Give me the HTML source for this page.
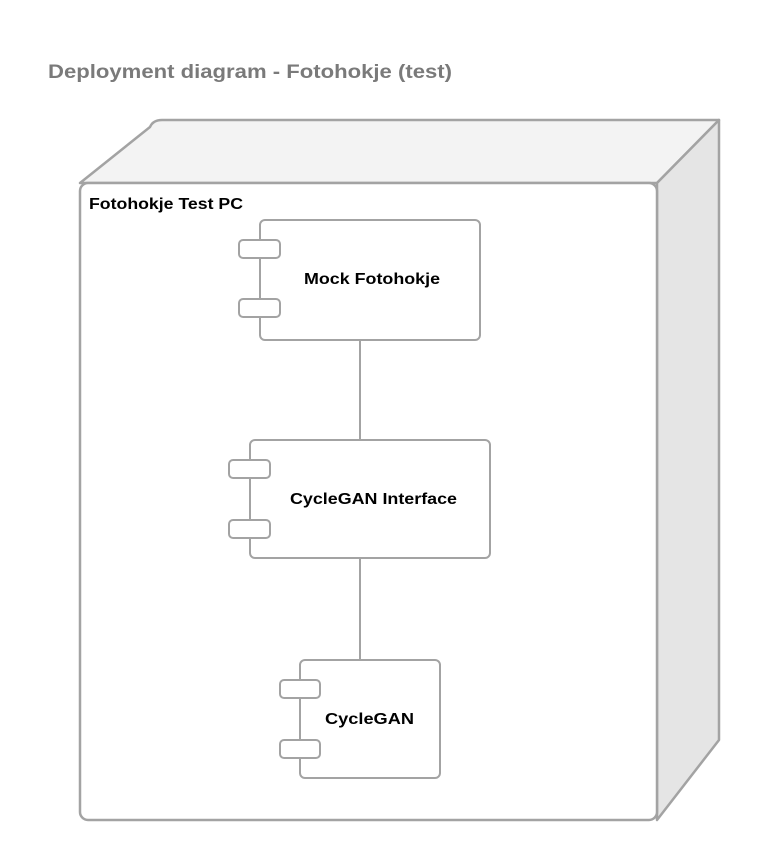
<!DOCTYPE html>
<html><head><style>body{margin:0;background:#fff}</style></head><body>
<svg width="760" height="860" xmlns="http://www.w3.org/2000/svg" font-family="Liberation Sans, Arial, sans-serif">
<text x="48" y="78" font-size="19" font-weight="bold" fill="#7a7a7a" textLength="404" lengthAdjust="spacingAndGlyphs">Deployment diagram - Fotohokje (test)</text>
<g stroke="#a3a3a3" stroke-width="2.5" stroke-linejoin="round">
<path d="M80,183 L150,127 Q153,120 162,120 L719,120 L657,183 Z" fill="#f3f3f3"/>
<path d="M657,183 L719,120 L719,740 L657,820 Z" fill="#e5e5e5"/>
<rect x="80" y="183" width="577" height="637" rx="8" fill="#fff"/>
</g>
<text x="89" y="209" font-size="16" font-weight="bold" fill="#000" textLength="154" lengthAdjust="spacingAndGlyphs">Fotohokje Test PC</text>
<g stroke="#a3a3a3" stroke-width="2" fill="#fff">
<line x1="360" y1="340" x2="360" y2="440"/>
<line x1="360" y1="558" x2="360" y2="660"/>
<rect x="260" y="220" width="220" height="120" rx="5"/>
<rect x="239" y="240" width="41" height="18" rx="4"/>
<rect x="239" y="299" width="41" height="18" rx="4"/>
<rect x="250" y="440" width="240" height="118" rx="5"/>
<rect x="229" y="460" width="41" height="18" rx="4"/>
<rect x="229" y="520" width="41" height="18" rx="4"/>
<rect x="300" y="660" width="140" height="118" rx="5"/>
<rect x="280" y="680" width="40" height="18" rx="4"/>
<rect x="280" y="740" width="40" height="18" rx="4"/>
</g>
<g font-size="16" font-weight="bold" fill="#000" lengthAdjust="spacingAndGlyphs">
<text x="304" y="284" textLength="136" lengthAdjust="spacingAndGlyphs">Mock Fotohokje</text>
<text x="290" y="504" textLength="167" lengthAdjust="spacingAndGlyphs">CycleGAN Interface</text>
<text x="325" y="724" textLength="89" lengthAdjust="spacingAndGlyphs">CycleGAN</text>
</g>
</svg>
</body></html>
